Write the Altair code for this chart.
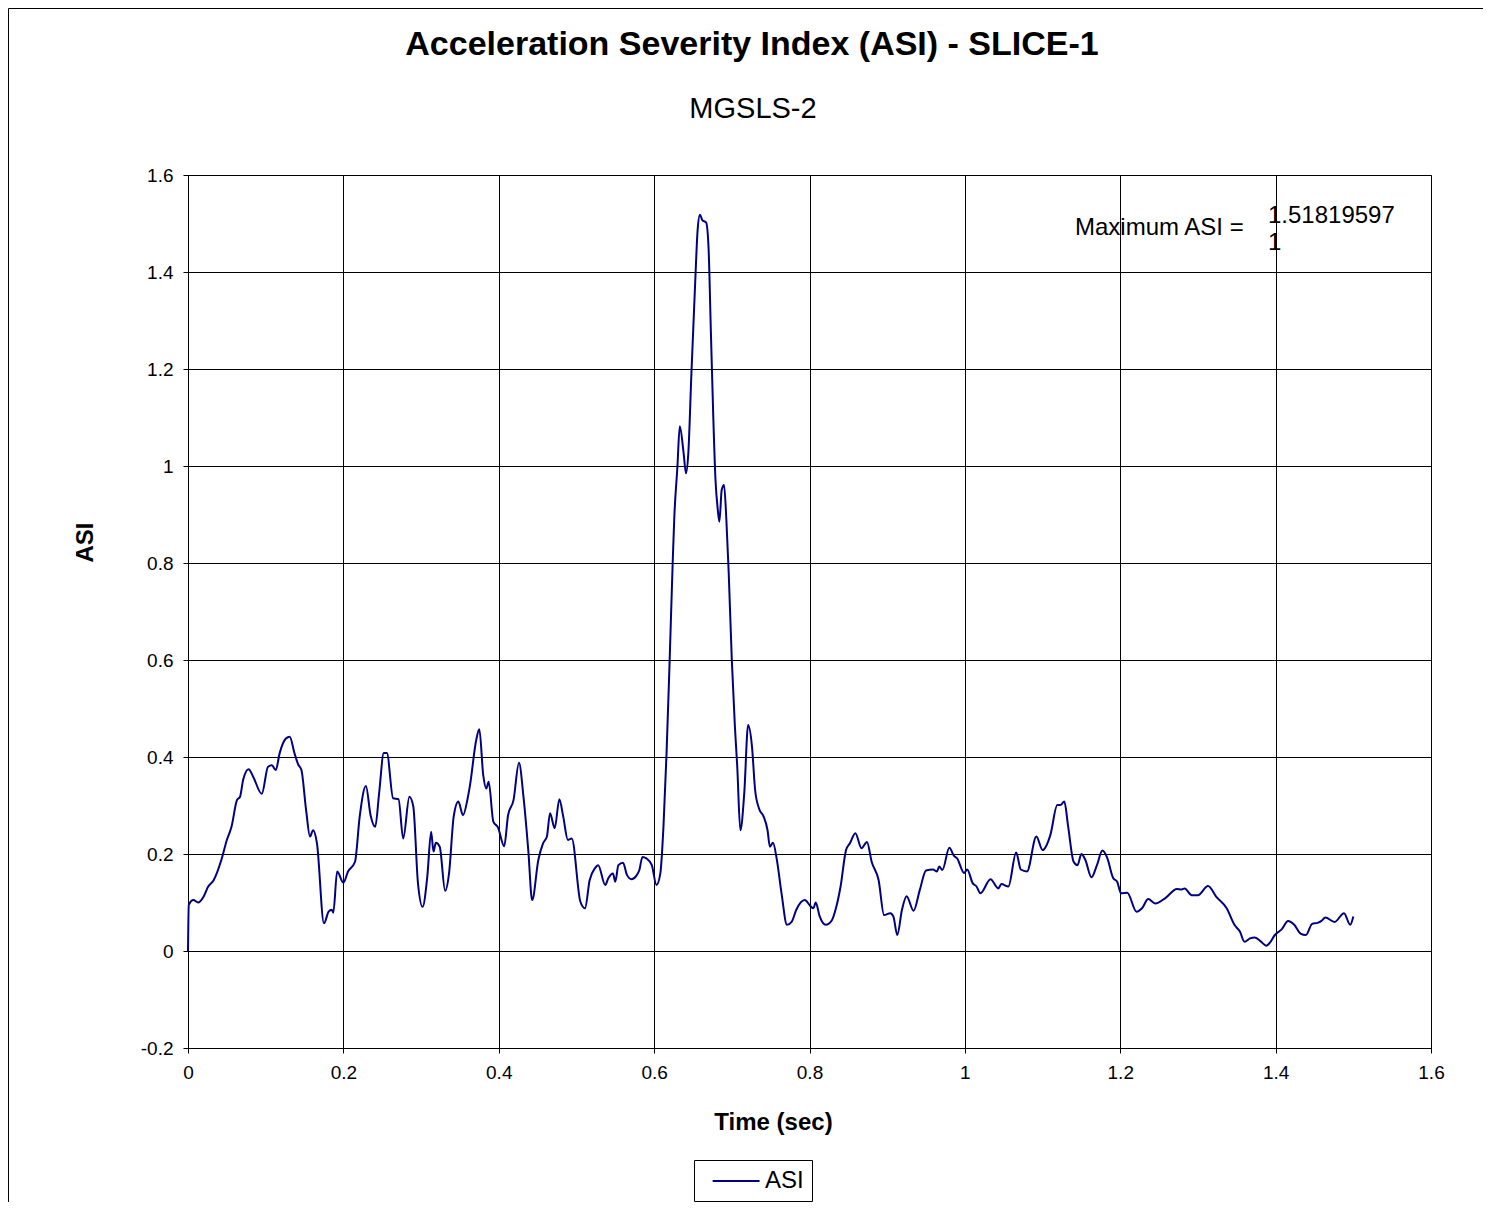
import altair as alt
import pandas as pd

# Time (sec) values
time_sec = [
    0.000, 0.001, 0.007, 0.013, 0.020, 0.026, 0.033, 0.043, 0.050, 0.056,
    0.063, 0.067, 0.071, 0.078, 0.084, 0.095, 0.103, 0.108, 0.113, 0.118,
    0.126, 0.131, 0.137, 0.142, 0.146, 0.152, 0.157, 0.161, 0.166, 0.175,
    0.181, 0.185, 0.187, 0.192, 0.200, 0.206, 0.215, 0.221, 0.229, 0.235,
    0.241, 0.246, 0.252, 0.256, 0.264, 0.271, 0.277, 0.285, 0.290, 0.296,
    0.302, 0.308, 0.313, 0.316, 0.319, 0.324, 0.331, 0.336, 0.342, 0.348,
    0.354, 0.360, 0.363, 0.371, 0.375, 0.380, 0.384, 0.387, 0.393, 0.399,
    0.407, 0.412, 0.419, 0.426, 0.432, 0.438, 0.443, 0.451, 0.457, 0.462,
    0.466, 0.472, 0.478, 0.483, 0.489, 0.494, 0.505, 0.511, 0.517, 0.524,
    0.528, 0.537, 0.541, 0.547, 0.550, 0.554, 0.560, 0.565, 0.571, 0.577,
    0.581, 0.585, 0.590, 0.597, 0.603, 0.608, 0.612, 0.616, 0.620, 0.624,
    0.626, 0.630, 0.633, 0.638, 0.641, 0.644, 0.648, 0.653, 0.656, 0.659,
    0.662, 0.667, 0.670, 0.673, 0.676, 0.679, 0.682, 0.684, 0.687, 0.690,
    0.693, 0.696, 0.700, 0.704, 0.707, 0.711, 0.716, 0.721, 0.726, 0.730,
    0.735, 0.741, 0.746, 0.749, 0.753, 0.758, 0.764, 0.771, 0.777, 0.783,
    0.794, 0.801, 0.805, 0.808, 0.813, 0.821, 0.829, 0.834, 0.840, 0.847,
    0.852, 0.859, 0.867, 0.874, 0.880, 0.889, 0.896, 0.904, 0.908, 0.913,
    0.919, 0.925, 0.934, 0.942, 0.950, 0.959, 0.964, 0.967, 0.971, 0.980,
    0.986, 0.990, 0.999, 1.003, 1.010, 1.015, 1.020, 1.033, 1.043, 1.047,
    1.056, 1.066, 1.072, 1.080, 1.092, 1.100, 1.110, 1.119, 1.123, 1.128,
    1.133, 1.140, 1.145, 1.150, 1.155, 1.163, 1.170, 1.177, 1.183, 1.191,
    1.196, 1.201, 1.209, 1.221, 1.228, 1.236, 1.245, 1.258, 1.273, 1.279,
    1.283, 1.292, 1.300, 1.313, 1.324, 1.337, 1.347, 1.354, 1.360, 1.367,
    1.373, 1.380, 1.388, 1.392, 1.399, 1.408, 1.416, 1.424, 1.432, 1.439,
    1.447, 1.454, 1.459, 1.464, 1.476, 1.488, 1.496, 1.500,
]

# ASI values
asi_values = [
    0.000, 0.095, 0.105, 0.100, 0.112, 0.133, 0.146, 0.188, 0.229, 0.256,
    0.311, 0.318, 0.353, 0.375, 0.359, 0.324, 0.380, 0.383, 0.373, 0.408,
    0.438, 0.442, 0.408, 0.384, 0.373, 0.291, 0.236, 0.249, 0.222, 0.057,
    0.081, 0.085, 0.079, 0.164, 0.141, 0.164, 0.184, 0.277, 0.340, 0.280,
    0.256, 0.325, 0.408, 0.408, 0.315, 0.313, 0.232, 0.318, 0.298, 0.140,
    0.091, 0.153, 0.246, 0.205, 0.223, 0.215, 0.124, 0.160, 0.277, 0.308,
    0.280, 0.315, 0.342, 0.435, 0.457, 0.363, 0.335, 0.349, 0.267, 0.255,
    0.216, 0.280, 0.311, 0.388, 0.315, 0.208, 0.105, 0.188, 0.222, 0.236,
    0.284, 0.253, 0.313, 0.277, 0.229, 0.232, 0.102, 0.088, 0.146, 0.171,
    0.177, 0.136, 0.150, 0.160, 0.143, 0.177, 0.182, 0.157, 0.148, 0.155,
    0.167, 0.194, 0.191, 0.177, 0.136, 0.160, 0.256, 0.408, 0.600, 0.806,
    0.895, 0.999, 1.082, 1.026, 0.985, 1.026, 1.191, 1.384, 1.487, 1.518,
    1.507, 1.502, 1.452, 1.280, 1.109, 0.971, 0.909, 0.885, 0.951, 0.961,
    0.889, 0.780, 0.600, 0.462, 0.380, 0.249, 0.325, 0.466, 0.421, 0.332,
    0.294, 0.277, 0.249, 0.215, 0.223, 0.188, 0.119, 0.054, 0.060, 0.085,
    0.105, 0.093, 0.088, 0.100, 0.072, 0.054, 0.064, 0.088, 0.133, 0.208,
    0.222, 0.243, 0.212, 0.225, 0.184, 0.146, 0.074, 0.078, 0.071, 0.033,
    0.085, 0.113, 0.083, 0.126, 0.166, 0.168, 0.164, 0.174, 0.167, 0.213,
    0.196, 0.191, 0.161, 0.168, 0.140, 0.133, 0.119, 0.148, 0.129, 0.138,
    0.133, 0.203, 0.168, 0.164, 0.236, 0.208, 0.239, 0.301, 0.301, 0.308,
    0.256, 0.184, 0.177, 0.200, 0.188, 0.152, 0.177, 0.207, 0.193, 0.150,
    0.143, 0.119, 0.120, 0.081, 0.088, 0.107, 0.098, 0.109, 0.128, 0.127,
    0.129, 0.115, 0.115, 0.134, 0.111, 0.088, 0.054, 0.040, 0.019, 0.026,
    0.028, 0.021, 0.011, 0.016, 0.033, 0.045, 0.062, 0.054, 0.036, 0.033,
    0.056, 0.058, 0.062, 0.069, 0.060, 0.078, 0.054, 0.071,
]

series_name = "ASI"
x_ticks = [0, 0.2, 0.4, 0.6, 0.8, 1.0, 1.2, 1.4, 1.6]
y_ticks = [-0.2, 0, 0.2, 0.4, 0.6, 0.8, 1.0, 1.2, 1.4, 1.6]
chart_title = "Acceleration Severity Index (ASI) - SLICE-1"
chart_subtitle = "MGSLS-2"
max_label = "Maximum ASI ="
max_value_line1 = "1.51819597"
max_value_line2 = "1"

FONT = "Liberation Sans, Arial, sans-serif"
NAVY = "#000080"
LABEL_EXPR = "datum.value < 0 ? '-' + format(-datum.value, '~g') : format(datum.value, '~g')"

df = pd.DataFrame({"t": time_sec, "asi": asi_values, "series": series_name})

line = alt.Chart(df).mark_line(strokeWidth=2, interpolate="monotone").encode(
    x=alt.X("t:Q", scale=alt.Scale(domain=[0, 1.6], nice=False),
            axis=alt.Axis(values=x_ticks, title="Time (sec)", titleX=585, titleY=74,
                          titleBaseline="middle", labelPadding=10, tickSize=5,
                          labelFlush=False, labelExpr=LABEL_EXPR)),
    y=alt.Y("asi:Q", scale=alt.Scale(domain=[-0.2, 1.6], nice=False),
            axis=alt.Axis(values=y_ticks, title="ASI", titleX=-103, titleY=367,
                          titleBaseline="middle", labelPadding=10, tickSize=5,
                          labelFlush=False, labelExpr=LABEL_EXPR)),
    color=alt.Color("series:N", scale=alt.Scale(range=[NAVY]),
                    legend=alt.Legend(title=None, orient="none", legendX=506, legendY=985,
                                      strokeColor="black", padding=8,
                                      symbolType="M-0.2,0H3.8",
                                      symbolSize=550, symbolStrokeWidth=2,
                                      labelFontSize=24, labelFont=FONT, labelColor="black",
                                      labelOffset=37, fillColor="white")),
)

anno_df = pd.DataFrame({"a": [0]})


def text_layer(txt, x, y, size, weight="normal", align="left"):
    return alt.Chart(anno_df).mark_text(
        align=align, baseline="middle", fontSize=size, font=FONT, fontWeight=weight,
        color="black", text=txt,
    ).encode(x=alt.value(x), y=alt.value(y))


title_t = text_layer(chart_title, 564, -130, 34, "bold", "center")
subtitle_t = text_layer(chart_subtitle, 565, -66, 29, "normal", "center")
ann1 = text_layer(max_label, 887, 53, 24)
ann2 = text_layer(max_value_line1, 1080, 41, 24)
ann3 = text_layer(max_value_line2, 1080, 68, 24)

frame = alt.Chart(anno_df).mark_rect(fill="transparent", stroke="black", strokeWidth=1).encode(
    x=alt.value(-179.5), x2=alt.value(1400), y=alt.value(-166.5), y2=alt.value(1200))

chart = alt.layer(frame, line, title_t, subtitle_t, ann1, ann2, ann3).properties(
    width=1243,
    height=873,
    autosize=alt.AutoSizeParams(type="none"),
    padding={"left": 180, "top": 167, "right": 52, "bottom": 154},
).configure_view(
    stroke="#808080", strokeWidth=1
).configure_axis(
    labelFont=FONT, labelFontSize=19, labelColor="black",
    titleFont=FONT, titleFontSize=24, titleFontWeight="bold", titleColor="black",
    gridColor="black", gridOpacity=1, gridWidth=1,
    domainColor="black", tickColor="black", domainWidth=1,
)

chart.save("out.html", embed_options={"renderer": "svg", "actions": False})
